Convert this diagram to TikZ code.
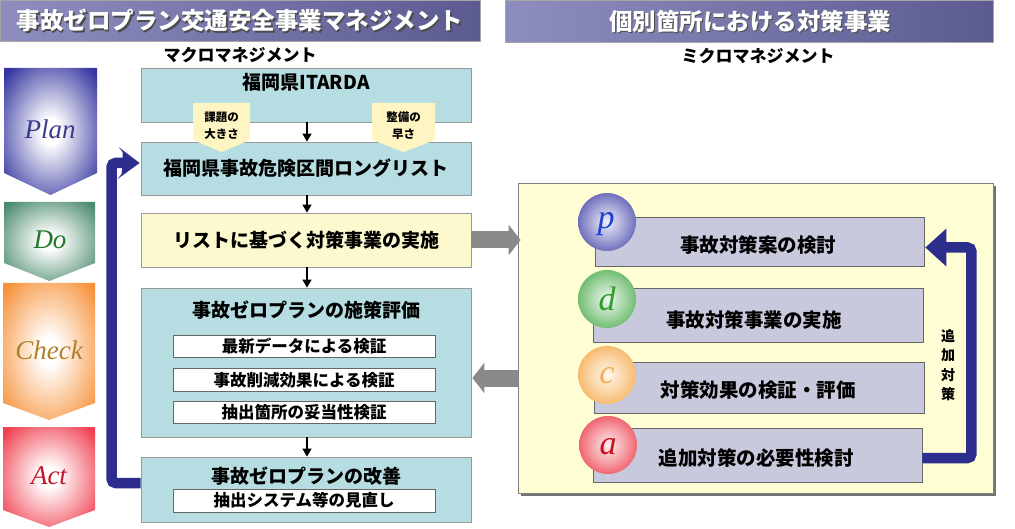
\documentclass[tikz,border=0pt]{standalone}
\usepackage{fontspec}
\setmainfont{Noto Sans CJK JP}
\newfontfamily\lser{Liberation Serif}
\usetikzlibrary{arrows.meta,shadows}
\definecolor{hdrL}{HTML}{8E8EBE}
\definecolor{hdrR}{HTML}{5B5B92}
\definecolor{tealF}{HTML}{B6DDE1}
\definecolor{yelF}{HTML}{FDF9CE}
\definecolor{microF}{HTML}{FEFDD3}
\definecolor{lavF}{HTML}{C9C9DE}
\definecolor{tagF}{HTML}{FFF5C2}
\definecolor{garrow}{HTML}{8A8A8A}
\definecolor{loopB}{HTML}{2D2D8E}
\definecolor{planC}{HTML}{3535A0}
\definecolor{doC}{HTML}{4A8A6C}
\definecolor{checkC}{HTML}{F7923A}
\definecolor{actC}{HTML}{F04050}
\definecolor{planT}{HTML}{3A3A8C}
\definecolor{doT}{HTML}{1E7A2A}
\definecolor{checkT}{HTML}{B0802A}
\definecolor{actT}{HTML}{C0182A}
\definecolor{pB}{HTML}{2A2A9E}
\definecolor{dB}{HTML}{2E9E2E}
\definecolor{cB}{HTML}{F39A2A}
\definecolor{aB}{HTML}{E81C2C}
\definecolor{pL}{HTML}{1E40D0}
\definecolor{dL}{HTML}{2E9E2E}
\definecolor{cL}{HTML}{F08A10}
\definecolor{aL}{HTML}{C8101E}
\pgfdeclareradialshading{shPlan}{\pgfpoint{0bp}{0bp}}{color(0bp)=(white);color(5bp)=(white);color(33bp)=(planC);color(50bp)=(planC)}
\pgfdeclareradialshading{shDo}{\pgfpoint{0bp}{0bp}}{color(0bp)=(white);color(5bp)=(white);color(33bp)=(doC);color(50bp)=(doC)}
\pgfdeclareradialshading{shCheck}{\pgfpoint{0bp}{0bp}}{color(0bp)=(white);color(5bp)=(white);color(33bp)=(checkC);color(50bp)=(checkC)}
\pgfdeclareradialshading{shAct}{\pgfpoint{0bp}{0bp}}{color(0bp)=(white);color(5bp)=(white);color(33bp)=(actC);color(50bp)=(actC)}
\pgfdeclareradialshading{ballP}{\pgfpoint{0bp}{0bp}}{color(0bp)=(white!92!pB);color(14bp)=(white!60!pB);color(38bp)=(pB);color(50bp)=(pB!80!black)}
\pgfdeclareradialshading{ballD}{\pgfpoint{0bp}{0bp}}{color(0bp)=(white!92!dB);color(14bp)=(white!60!dB);color(38bp)=(dB);color(50bp)=(dB!85!black)}
\pgfdeclareradialshading{ballC}{\pgfpoint{0bp}{0bp}}{color(0bp)=(white!92!cB);color(14bp)=(white!60!cB);color(38bp)=(cB);color(50bp)=(cB!90!black)}
\pgfdeclareradialshading{ballA}{\pgfpoint{0bp}{0bp}}{color(0bp)=(white!92!aB);color(14bp)=(white!60!aB);color(38bp)=(aB);color(50bp)=(aB!90!black)}
\tikzset{
  hdrbox/.style={left color=hdrL, right color=hdrR, draw=gray!70, line width=0.6pt, inner sep=0pt},
  htext/.style={text=white, font=\bfseries\fontsize{23.5}{26}\selectfont, inner sep=0pt},
  hshadow/.style={text=black!70, font=\bfseries\fontsize{23.5}{26}\selectfont, inner sep=0pt},
  title/.style={font=\bfseries\fontsize{17}{20}\selectfont, inner sep=0pt},
  tealbox/.style={draw=gray!80, fill=tealF, line width=0.8pt, inner sep=0pt},
  yelbox/.style={draw=gray!80, fill=yelF, line width=0.8pt, inner sep=0pt},
  subbox/.style={draw=gray!80!black, fill=white, line width=0.8pt, inner sep=0pt, minimum width=262pt, font=\bfseries\fontsize{16.5}{19}\selectfont},
  btxt/.style={font=\bfseries\fontsize{19}{22}\selectfont, inner sep=0pt},
  rtxt/.style={font=\bfseries\fontsize{19.5}{22}\selectfont, inner sep=0pt},
  tagtxt/.style={font=\bfseries\fontsize{11.5}{17}\selectfont, align=center, inner sep=0pt},
  microbox/.style={draw=gray, fill=microF, line width=0.8pt, inner sep=0pt, drop shadow={shadow xshift=3pt, shadow yshift=-3pt, fill=black!55, opacity=1}},
  lavbox/.style={draw=gray!80!black, fill=lavF, line width=0.8pt, inner sep=0pt},
  pdca/.style={font=\lser\itshape\fontsize{27}{30}\selectfont, inner sep=0pt},
  ballletter/.style={font=\lser\itshape\fontsize{34}{36}\selectfont, inner sep=0pt},
  ball/.style={circle, minimum size=58pt, inner sep=0pt},
  flowarrow/.style={line width=1.6pt, -{Triangle[length=8pt,width=9pt]}},
  grayarrow/.style={draw=garrow, line width=17pt, -{Triangle[length=12pt,width=30pt]}},
  bluearrow/.style={draw=loopB, line width=10.5pt, rounded corners=4pt},
}
\begin{document}
\begin{tikzpicture}[x=1pt,y=-1pt]
\useasboundingbox (0,0) rectangle (1015,529);
\fill[white] (0,0) rectangle (1015,529);

% headers
\node[hdrbox, minimum width=480pt, minimum height=41pt] (hdrL) at (240,20.5) {};
\node[hshadow] (hdrLs) at (241.4,21.9) {事故ゼロプラン交通安全事業マネジメント};
\node[htext] (hdrLt) at (240,20.5) {事故ゼロプラン交通安全事業マネジメント};
\node[hdrbox, minimum width=488pt, minimum height=42pt] (hdrR) at (749,21) {};
\node[hshadow] (hdrRs) at (751.4,22.4) {個別箇所における対策事業};
\node[htext] (hdrRt) at (750,21) {個別箇所における対策事業};

\node[title] (macro) at (240,55) {マクロマネジメント};
\node[title] (microT) at (758,56) {ミクロマネジメント};

% PDCA chevrons
\shade[shading=shPlan] (4,68) -- (97,68) -- (97,173) -- (50.5,195) -- (4,173) -- cycle;
\shade[shading=shDo] (4,202) -- (95,202) -- (95,263) -- (49.5,281) -- (4,263) -- cycle;
\shade[shading=shCheck] (3,283) -- (95,283) -- (95,403) -- (49,420) -- (3,403) -- cycle;
\shade[shading=shAct] (3,427) -- (95,427) -- (95,510) -- (49,527) -- (3,510) -- cycle;
\node[pdca, text=planT] (plan) at (50,129) {Plan};
\node[pdca, text=doT] (do) at (50,240) {Do};
\node[pdca, text=checkT] (check) at (49,350) {Check};
\node[pdca, text=actT] (act) at (49,476) {Act};

% macro flow
\node[tealbox, minimum width=330pt, minimum height=54pt] (itarda) at (306,95) {};
\node[btxt] (itardaT) at (306,82) {福岡県ITARDA};
\node[tealbox, minimum width=330pt, minimum height=53pt] (list) at (306,168.5) {};
\node[btxt] (listT) at (306,168) {福岡県事故危険区間ロングリスト};
\node[yelbox, minimum width=330pt, minimum height=54pt] (jisshi) at (306,240) {};
\node[btxt] (jisshiT) at (306,240) {リストに基づく対策事業の実施};
\node[tealbox, minimum width=330pt, minimum height=149pt] (hyoka) at (306,362.5) {};
\node[btxt] (hyokaT) at (306,310) {事故ゼロプランの施策評価};
\node[subbox, minimum height=22pt] (s1) at (304,346.5) {最新データによる検証};
\node[subbox, minimum height=23pt] (s2) at (304,380) {事故削減効果による検証};
\node[subbox, minimum height=22pt] (s3) at (304,412.5) {抽出箇所の妥当性検証};
\node[tealbox, minimum width=330pt, minimum height=65pt] (kaizen) at (306,489.5) {};
\node[btxt] (kaizenT) at (306,476) {事故ゼロプランの改善};
\node[subbox, minimum height=23pt] (s4) at (304,500.5) {抽出システム等の見直し};

% tags
\fill[tagF] (193,103) -- (250,103) -- (250,140) -- (221.5,152) -- (193,140) -- cycle;
\node[tagtxt] (tag1) at (221.5,126) {課題の\\大きさ};
\fill[tagF] (372,103) -- (435,103) -- (435,140) -- (403.5,152) -- (372,140) -- cycle;
\node[tagtxt] (tag2) at (403.5,126) {整備の\\早さ};

\draw[flowarrow] ([xshift=1pt]itarda.south) -- ([xshift=1pt]list.north);
\draw[flowarrow] ([xshift=1pt]list.south) -- ([xshift=1pt]jisshi.north);
\draw[flowarrow] ([xshift=1pt]jisshi.south) -- ([xshift=1pt]hyoka.north);
\draw[flowarrow] ([xshift=1pt]hyoka.south) -- ([xshift=1pt]kaizen.north);

% left loop
\draw[bluearrow] ([yshift=6.5pt]kaizen.west) -- ++(-29,0) |- ([yshift=5.5pt,xshift=-16pt]list.west);
\draw[draw=none, fill=loopB] ([yshift=5.5pt,xshift=-18pt]list.west) -- ++(0,-11) -- ++(-4,-5) -- ([yshift=5.5pt,xshift=-1pt]list.west) -- ++(-22,16) -- ++(4,-5) -- cycle;

% micro
\node[microbox, minimum width=475pt, minimum height=310pt] (micro) at (755.5,338) {};
\node[lavbox, minimum width=329pt, minimum height=49pt] (pbox) at (759.5,241.5) {};
\node[rtxt] (pT) at (758,245) {事故対策案の検討};
\node[lavbox, minimum width=330pt, minimum height=54pt] (dbox) at (758,315) {};
\node[rtxt] (dT) at (754,320) {事故対策事業の実施};
\node[lavbox, minimum width=330pt, minimum height=51pt] (cbox) at (759,387.5) {};
\node[rtxt] (cT) at (758,390) {対策効果の検証・評価};
\node[lavbox, minimum width=329pt, minimum height=54pt] (abox) at (757.5,455) {};
\node[rtxt] (aT) at (756,458) {追加対策の必要性検討};

\node[ball, shading=ballP] (pball) at (607,222) {};
\node[ballletter, text=pL] (pl) at (606,224) {p};
\node[ball, shading=ballD] (dball) at (607,299) {};
\node[ballletter, text=dL] (dl) at (607,299) {d};
\node[ball, shading=ballC] (cball) at (607,375) {};
\node[ballletter, text=cL!70!white] (cl) at (607,376) {c};
\node[ball, shading=ballA] (aball) at (608,445) {};
\node[ballletter, text=aL] (al) at (608,447) {a};

% right loop
\draw[bluearrow] ([yshift=-3pt]abox.east) -- ++(49,0) |- ([yshift=-6pt,xshift=16pt]pbox.east);
\draw[draw=none, fill=loopB] ([yshift=-6pt,xshift=22pt]pbox.east) -- ++(0,-19) -- ([yshift=-6pt,xshift=1pt]pbox.east) -- ++(21,19) -- cycle;
\node[font=\bfseries\fontsize{14}{19.5}\selectfont, align=center, inner sep=0pt] (tsuika) at (948,365) {追\\加\\対\\策};

% gray arrows
\draw[grayarrow] (jisshi.east) -- ([xshift=3pt]micro.west |- jisshi.east);
\draw[grayarrow] (micro.west |- 0,378) -- ([xshift=1pt]hyoka.east |- 0,378);
\end{tikzpicture}
\end{document}
